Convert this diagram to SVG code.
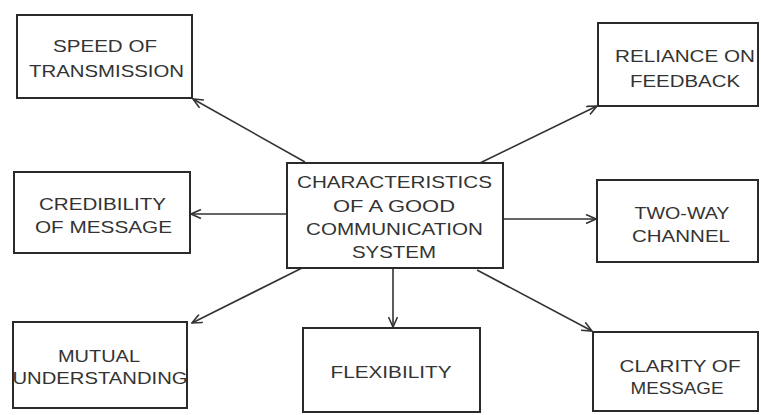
<svg xmlns="http://www.w3.org/2000/svg" width="761" height="415" viewBox="0 0 761 415">
<defs>
<style>
.box{fill:#fff;stroke:#2a2a2a;stroke-width:2}
.t{font-family:"Liberation Sans",Arial,sans-serif;font-size:17px;fill:#333;text-anchor:middle}
.c{stroke:#333;stroke-width:1.6;fill:none;marker-end:url(#ah)}
</style>
<marker id="ah" viewBox="0 0 12 10" refX="11" refY="5" markerWidth="12" markerHeight="10" markerUnits="userSpaceOnUse" orient="auto">
<path d="M1,0.5 L11,5 L1,9.5" fill="none" stroke="#333" stroke-width="1.6"/>
</marker>
</defs>
<rect width="761" height="415" fill="#fff"/>
<g id="connectors">
<line class="c" x1="305" y1="162" x2="193" y2="99"/>
<line class="c" x1="480" y1="163" x2="597" y2="106"/>
<line class="c" x1="287" y1="214" x2="191" y2="214"/>
<line class="c" x1="503" y1="219" x2="596" y2="219"/>
<line class="c" x1="302" y1="268" x2="192" y2="323"/>
<line class="c" x1="393" y1="268" x2="393" y2="327"/>
<line class="c" x1="477" y1="270" x2="592" y2="331"/>
</g>
<g id="center">
<rect class="box" x="287" y="163" width="216" height="105"/>
<text class="t" x="394.5" y="188" textLength="195" lengthAdjust="spacingAndGlyphs">CHARACTERISTICS</text>
<text class="t" x="394" y="212" textLength="122" lengthAdjust="spacingAndGlyphs">OF A GOOD</text>
<text class="t" x="394.5" y="235" textLength="177" lengthAdjust="spacingAndGlyphs">COMMUNICATION</text>
<text class="t" x="394" y="258" textLength="84" lengthAdjust="spacingAndGlyphs">SYSTEM</text>
</g>
<g id="speed">
<rect class="box" x="17" y="15" width="175" height="83"/>
<text class="t" x="105" y="52" textLength="104" lengthAdjust="spacingAndGlyphs">SPEED OF</text>
<text class="t" x="106.5" y="77" textLength="155" lengthAdjust="spacingAndGlyphs">TRANSMISSION</text>
</g>
<g id="credibility">
<rect class="box" x="14" y="172" width="176" height="81"/>
<text class="t" x="102.5" y="210" textLength="127" lengthAdjust="spacingAndGlyphs">CREDIBILITY</text>
<text class="t" x="103.5" y="233" textLength="137" lengthAdjust="spacingAndGlyphs">OF MESSAGE</text>
</g>
<g id="mutual">
<rect class="box" x="13" y="322" width="174" height="86"/>
<text class="t" x="99" y="362" textLength="82" lengthAdjust="spacingAndGlyphs">MUTUAL</text>
<text class="t" x="100" y="384" textLength="175" lengthAdjust="spacingAndGlyphs">UNDERSTANDING</text>
</g>
<g id="flexibility">
<rect class="box" x="303" y="328" width="177" height="84"/>
<text class="t" x="391" y="378" textLength="121" lengthAdjust="spacingAndGlyphs">FLEXIBILITY</text>
</g>
<g id="reliance">
<rect class="box" x="598" y="23" width="160" height="83"/>
<text class="t" x="685" y="62" textLength="140" lengthAdjust="spacingAndGlyphs">RELIANCE ON</text>
<text class="t" x="685" y="87" textLength="110" lengthAdjust="spacingAndGlyphs">FEEDBACK</text>
</g>
<g id="twoway">
<rect class="box" x="597" y="180" width="161" height="82"/>
<text class="t" x="682" y="219" textLength="95" lengthAdjust="spacingAndGlyphs">TWO-WAY</text>
<text class="t" x="681" y="242" textLength="98" lengthAdjust="spacingAndGlyphs">CHANNEL</text>
</g>
<g id="clarity">
<rect class="box" x="593" y="332" width="165" height="79"/>
<text class="t" x="680" y="372" textLength="121" lengthAdjust="spacingAndGlyphs">CLARITY OF</text>
<text class="t" x="677" y="394" textLength="93" lengthAdjust="spacingAndGlyphs">MESSAGE</text>
</g>
</svg>
